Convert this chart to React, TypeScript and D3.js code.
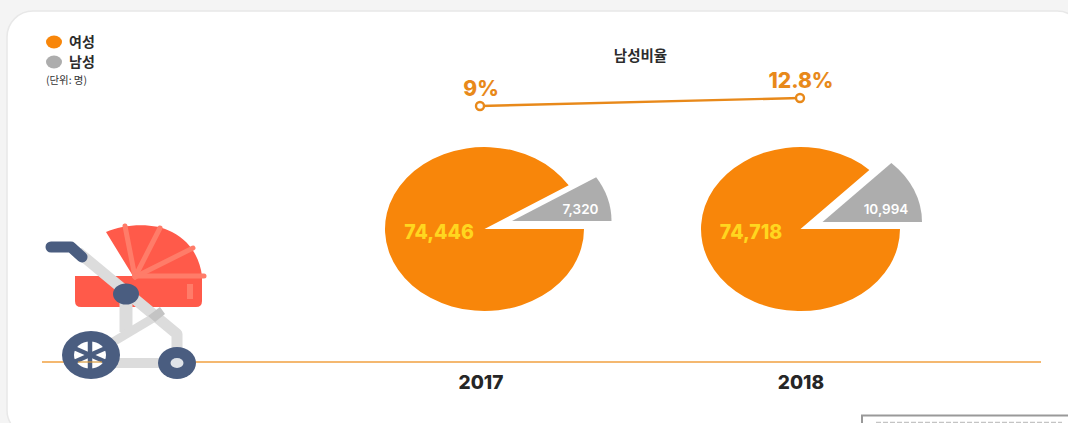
import React from "react";
import * as d3 from "d3";

const years = ["2017", "2018"];
const female = [74446, 74718];
const male = [7320, 10994];
const maleRatio = [9, 12.8];
const ratioLabels = ["9%", "12.8%"];
const legendLabels = ["여성", "남성"];

const ORANGE = "#f8860a";
const GRAY = "#adadad";
const KR = "'Noto Sans CJK KR', 'Noto Sans', sans-serif";
const NUM = "Inter, 'Noto Sans', sans-serif";
const NAVY = "#4a5d80";
const FRAME = "#dcdcdc";
const RED = "#ff5a4a";
const RIB = "#ff7c69";

const W = 1068;
const H = 423;

const xLine = d3.scaleLinear().domain([0, 1]).range([480, 800]);
const yRatio = d3.scaleLinear().domain([9, 12.8]).range([106, 98]);
const xPie = d3.scaleLinear().domain([0, 1]).range([484.5, 800.5]);
const RX = 99.5;
const RY = 82;
const CY = 229;
const SLICE_SHIFT = [[27.5, -8], [22, -7]];

const pieGen = d3
  .pie<number>()
  .sort(null)
  .startAngle(Math.PI / 2)
  .endAngle(Math.PI / 2 + Math.PI * 2);
const arcGen = d3.arc<d3.PieArcDatum<number>>().innerRadius(0).outerRadius(1);

const linePath = d3
  .line<number>()
  .x((_, i) => xLine(i))
  .y((d) => yRatio(d));

function Stroller() {
  return (
    <g>
      <path d="M106,232 C124,224 154,222 172,232 C190,241 200,258 202,276 L133,276 Z" fill={RED} />
      <path d="M75,276 H202 V301 Q202,307 196,307 H81 Q75,307 75,301 Z" fill={RED} />
      <g stroke={RIB} strokeWidth={5} strokeLinecap="round" fill="none">
        <line x1={135} y1={277} x2={125} y2={226} />
        <line x1={135} y1={277} x2={160} y2={228} />
        <line x1={135} y1={277} x2={193} y2={248} />
        <line x1={135} y1={276} x2={204} y2={276} />
      </g>
      <rect x={187} y={284} width={6} height={15} fill={RIB} />
      <g stroke={FRAME} fill="none" strokeLinejoin="round">
        <path d="M126,300 V332" strokeWidth={13} />
        <path d="M160,314 L108,345" strokeWidth={9} />
        <path d="M90,363 H177" strokeWidth={10} />
        <path d="M78,252 L177,334 V350" strokeWidth={11} />
      </g>
      <path d="M148,316 L160,307 L165,314 L155,322 Z" fill="#c4c4c4" />
      <path d="M51,247 H71 L82,257" stroke={NAVY} strokeWidth={11} strokeLinecap="round" strokeLinejoin="round" fill="none" />
      <ellipse cx={126} cy={294} rx={13} ry={10.5} fill={NAVY} />
      <ellipse cx={91} cy={355} rx={29} ry={24} fill={NAVY} />
      <ellipse cx={90} cy={355} rx={16} ry={13.5} fill="#ffffff" />
      <g stroke={NAVY} strokeWidth={4.5}>
        <line x1={90} y1={341} x2={90} y2={369} />
        <line x1={74} y1={348} x2={106} y2={362} />
        <line x1={74} y1={362} x2={106} y2={348} />
      </g>
      <line x1={78} y1={362} x2={102} y2={362} stroke="#d89a3c" strokeWidth={1.2} />
      <ellipse cx={177} cy={363} rx={19} ry={16} fill={NAVY} />
      <ellipse cx={177} cy={363} rx={6.5} ry={5} fill="#dfe3e8" />
    </g>
  );
}

export default function App() {
  return (
    <svg
      width={W}
      height={H}
      viewBox={`0 0 ${W} ${H}`}
      style={{ position: "fixed", left: 0, top: 0, display: "block" }}
    >
      <rect width={W} height={H} fill="#f4f4f4" />
      <rect x={7} y={11} width={1076} height={425} rx={26} fill="#ffffff" stroke="#e8e8e8" strokeWidth={1.5} />

      {legendLabels.map((label, i) => (
        <g key={label}>
          <ellipse cx={54} cy={42 + i * 20} rx={8} ry={6.5} fill={i === 0 ? ORANGE : GRAY} />
          <text x={69} y={47 + i * 20} fontFamily={KR} fontSize={14} fontWeight={700} fill="#2c2c2c">
            {label}
          </text>
        </g>
      ))}
      <text x={46} y={84} fontFamily={KR} fontSize={10.4} fill="#333333">
        (단위: 명)
      </text>

      <text x={640.5} y={61} textAnchor="middle" fontFamily={KR} fontSize={14.5} fontWeight={700} fill="#2c2c2c">
        남성비율
      </text>

      <line x1={42} x2={1041} y1={362} y2={362} stroke="#f0a040" strokeWidth={1.4} />

      <path d={linePath(maleRatio) ?? ""} fill="none" stroke="#e8891a" strokeWidth={2.4} />
      {maleRatio.map((r, i) => (
        <g key={years[i]}>
          <circle cx={xLine(i)} cy={yRatio(r)} r={4} fill="#ffffff" stroke="#e8891a" strokeWidth={2.4} />
          <text
            x={xLine(i) + 1}
            y={yRatio(r) - 10}
            textAnchor="middle"
            fontFamily={NUM}
            fontSize={21}
            fontWeight={800}
            fill="#e8891a"
          >
            {ratioLabels[i]}
          </text>
        </g>
      ))}

      {years.map((year, i) => {
        const [f, m] = pieGen([female[i], male[i]]);
        const cx = xPie(i);
        const [dx, dy] = SLICE_SHIFT[i];
        return (
          <g key={year}>
            <path d={arcGen(f) ?? ""} fill={ORANGE} transform={`translate(${cx},${CY}) scale(${RX},${RY})`} />
            <path d={arcGen(m) ?? ""} fill={GRAY} transform={`translate(${cx + dx},${CY + dy}) scale(${RX},${RY})`} />
            <text
              x={i === 0 ? cx - 45.5 : cx - 49.5}
              y={CY + 9.5}
              textAnchor="middle"
              fontFamily={NUM}
              fontSize={19.5}
              fontWeight={800}
              fill="#ffd61f"
            >
              {d3.format(",")(female[i])}
            </text>
            <text
              x={i === 0 ? cx + 96 : cx + 85.5}
              y={CY - 15}
              textAnchor="middle"
              fontFamily={NUM}
              fontSize={13.5}
              fontWeight={600}
              fill="#ffffff"
            >
              {d3.format(",")(male[i])}
            </text>
            <text
              x={xLine(i) + 1}
              y={389}
              textAnchor="middle"
              fontFamily={NUM}
              fontSize={19}
              fontWeight={800}
              fill="#262626"
            >
              {year}
            </text>
          </g>
        );
      })}

      <Stroller />

      <rect x={862} y={415.5} width={230} height={30} fill="#ffffff" stroke="#999999" strokeWidth={2} />
      <line x1={876} x2={1062} y1={422.5} y2={422.5} stroke="#c4c4c4" strokeWidth={1.5} strokeDasharray="5 2" />
    </svg>
  );
}
